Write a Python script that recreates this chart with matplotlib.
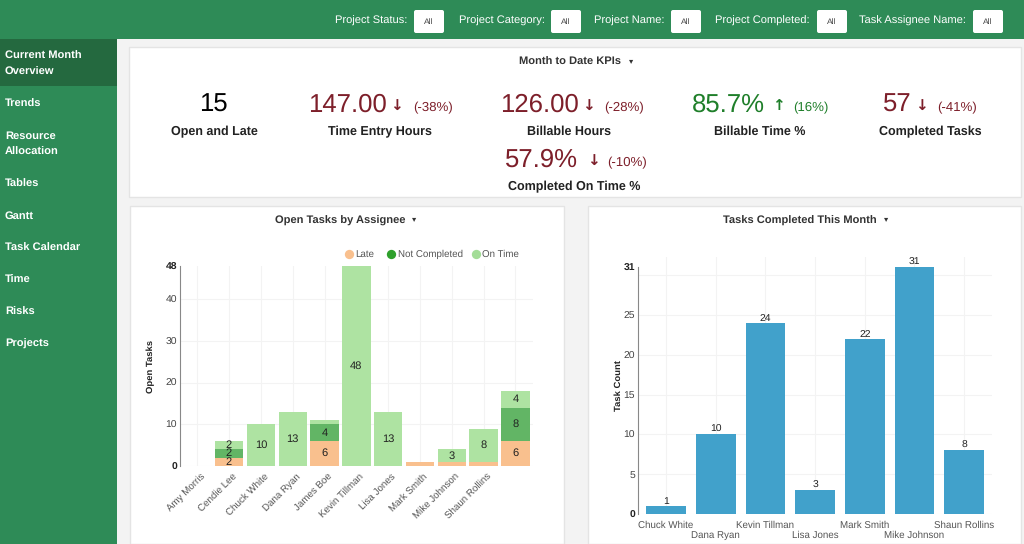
import matplotlib
matplotlib.use('Agg')
import matplotlib.pyplot as plt
from matplotlib.patches import Rectangle, FancyBboxPatch
from matplotlib.transforms import ScaledTranslation
import numpy as np

plt.rcParams['font.family'] = ['Liberation Sans', 'DejaVu Sans']
plt.rcParams['text.hinting'] = 'no_hinting'

GREEN = '#2e8b57'
RED = '#7d1f2a'
DKGREEN = '#1f7f2a'

# sidebar and filters
menu_items = ['Current Month\nOverview', 'Trends', 'Resource\nAllocation', 'Tables', 'Gantt',
              'Task Calendar', 'Time', 'Risks', 'Projects']
menu_y = [64, 104, 144, 184, 216, 248, 280, 312, 344]
filter_names = ['Project Status:', 'Project Category:', 'Project Name:', 'Project Completed:', 'Task Assignee Name:']
filter_right = [407, 545, 664, 810, 966]
filter_box = [414, 551, 671, 817, 973]

# KPI values: number, arrow, change, label
kpi_values = ['15', '147.00', '126.00', '85.7%', '57', '57.9%']
kpi_arrows = ['', '↓', '↓', '↑', '↓', '↓']
kpi_changes = ['', '(-38%)', '(-28%)', '(16%)', '(-41%)', '(-10%)']
kpi_labels = ['Open and Late', 'Time Entry Hours', 'Billable Hours', 'Billable Time %', 'Completed Tasks',
              'Completed On Time %']

# open tasks chart
assignees = ['Amy Morris', 'Cendie Lee', 'Chuck White', 'Dana Ryan', 'James Boe', 'Kevin Tillman', 'Lisa Jones',
             'Mark Smith', 'Mike Johnson', 'Shaun Rollins', '']
late = np.array([0, 2, 0, 0, 6, 0, 0, 1, 1, 1, 6])
not_completed = np.array([0, 2, 0, 0, 4, 0, 0, 0, 0, 0, 8])
on_time = np.array([0, 2, 10, 13, 1, 48, 13, 0, 3, 8, 4])

# completed tasks chart
completed_names = ['Chuck White', 'Dana Ryan', 'Kevin Tillman', 'Lisa Jones', 'Mark Smith', 'Mike Johnson',
                   'Shaun Rollins']
completed = [1, 10, 24, 3, 22, 31, 8]

W, H = 1024, 544
fig = plt.figure(figsize=(W / 100, H / 100), dpi=100, facecolor='#f3f3f3')

# page layer in pixels
page = fig.add_axes([0, 0, 1, 1])
page.set_xlim(0, W)
page.set_ylim(H, 0)
page.axis('off')

page.add_patch(Rectangle((0, 0), W, 39, color=GREEN, lw=0))
page.add_patch(Rectangle((0, 0), 117, H, color=GREEN, lw=0))
page.add_patch(Rectangle((0, 39), 117, 47, color='#24693f', lw=0))

for item, y in zip(menu_items, menu_y):
    page.text(5, y, item, color='white', fontsize=8, fontweight='bold', va='center', linespacing=1.75)

for name, r, b in zip(filter_names, filter_right, filter_box):
    page.text(r, 21, name, color='white', fontsize=8, ha='right', va='center')
    page.add_patch(FancyBboxPatch((b, 10), 30, 23, boxstyle='round,pad=0,rounding_size=2', fc='white', ec='none'))
    page.text(b + 15, 22, 'All', color='#444444', fontsize=6, ha='center', va='center')

# panels
for x, y, w, h in [(129, 47, 892, 150), (130, 206, 434, 338), (588, 206, 433, 338)]:
    page.add_patch(Rectangle((x, y), w, h, fc='white', ec='#e4e4e4', lw=1))

page.text(570, 62.5, 'Month to Date KPIs', fontsize=8, fontweight='bold', color='#333333', ha='center', va='center')
page.text(631, 61.5, '▾', fontsize=6, color='#333333', ha='center', va='center')
page.text(340.5, 220.5, 'Open Tasks by Assignee', fontsize=8, fontweight='bold', color='#333333', ha='center',
          va='center')
page.text(414, 219.5, '▾', fontsize=6, color='#333333', ha='center', va='center')
page.text(800, 220.5, 'Tasks Completed This Month', fontsize=8, fontweight='bold', color='#333333', ha='center',
          va='center')
page.text(886, 219.5, '▾', fontsize=6, color='#333333', ha='center', va='center')

# KPIs
kpi_x = [213, 308, 500, 692, 883, 505]
kpi_y = [105, 105, 105, 105, 105, 160]
arrow_x = [0, 396, 588, 778, 921, 593]
change_x = [0, 433, 624, 811, 957, 627]
label_x = [214, 380, 569, 760, 930, 574]
for i in range(len(kpi_values)):
    col = 'black' if i == 0 else (DKGREEN if i == 3 else RED)
    ha = 'center' if i == 0 else 'left'
    page.text(kpi_x[i], kpi_y[i], kpi_values[i], fontsize=18.5, color=col, ha=ha, va='center')
    page.text(label_x[i], kpi_y[i] + 26.5, kpi_labels[i], fontsize=9, fontweight='bold', color='#222222', ha='center',
              va='center')
    if kpi_arrows[i]:
        page.text(arrow_x[i], kpi_y[i] + 1, kpi_arrows[i], fontsize=11, fontweight='bold', color=col, ha='center',
                  va='center', family='DejaVu Sans')
        page.text(change_x[i], kpi_y[i] + 3, kpi_changes[i], fontsize=9.5, color=col, ha='center', va='center')


def style_axis(ax, yticks, ylabel, top):
    ax.set_facecolor('none')
    for s in ['top', 'right', 'bottom']:
        ax.spines[s].set_visible(False)
    ax.spines['left'].set_color('#888888')
    ax.spines['left'].set_linewidth(0.8)
    ax.spines['left'].set_bounds(0, top)
    ax.grid(True, which='both', color='#f3f3f3', lw=0.8)
    ax.set_axisbelow(True)
    ax.set_yticks(yticks)
    ax.tick_params(axis='y', length=0, pad=2, labelsize=7.5, labelcolor='#444444')
    ax.tick_params(axis='both', which='both', length=0)
    ax.set_ylabel(ylabel, fontsize=6.8, fontweight='bold', color='#222222')
    labs = ax.get_yticklabels()
    for lab in (labs[0], labs[-1]):
        lab.set_fontweight('bold')
        lab.set_color('#222222')
    # the top tick only carries the maximum, it has no grid line
    ax.yaxis.get_major_ticks()[-1].gridline.set_visible(False)


# left chart
ax = fig.add_axes([180 / W, 1 - 466 / H, (533 - 180) / W, 200 / H])
x = np.arange(len(assignees))
w = 0.89
ax.bar(x, late, w, color='#f9c08e')
ax.bar(x, not_completed, w, bottom=late, color='#62b565')
ax.bar(x, on_time, w, bottom=late + not_completed, color='#aee3a2')
ax.set_xlim(-0.54, 10.55)
ax.set_ylim(0, 48)
style_axis(ax, [0, 10, 20, 30, 40, 48], 'Open Tasks', 48)
ax.yaxis.set_label_coords((155 - 180) / (533 - 180), 0.5)
ax.set_xticks(x)
ax.set_xticklabels(assignees, rotation=45, ha='right', rotation_mode='anchor', fontsize=7, color='#555555')
ax.tick_params(axis='x', pad=4)
shift = ScaledTranslation(3 / 100, 0, fig.dpi_scale_trans)
for lab in ax.get_xticklabels():
    lab.set_transform(lab.get_transform() + shift)
for i in x:
    base = 0
    for vals in (late, not_completed, on_time):
        v = vals[i]
        if v >= 2:
            ax.text(i, base + v / 2, str(v), ha='center', va='center', fontsize=8, color='#222222')
        base += v

legend_names = ['Late', 'Not Completed', 'On Time']
legend_cols = ['#f9c08e', '#2ea02c', '#a3dd97']
legend_x = [349, 391, 476]
for name, col, lx in zip(legend_names, legend_cols, legend_x):
    page.scatter([lx], [254], s=45, color=col, lw=0)
    page.text(lx + 6.5, 254, name, fontsize=7, color='#555555', va='center')

# right chart
ax2 = fig.add_axes([638 / W, 1 - 514 / H, (992 - 638) / W, 257 / H])
x2 = np.arange(len(completed_names))
bars = ax2.bar(x2, completed, 0.8, color='#41a1cb')
ax2.set_xlim(-0.564, 6.56)
ax2.set_ylim(0, 32.3)
ax2.set_yticks([30], minor=True)
style_axis(ax2, [0, 5, 10, 15, 20, 25, 31], 'Task Count', 31)
ax2.yaxis.set_label_coords((623 - 638) / (992 - 638), 0.5)
ax2.bar_label(bars, fontsize=7.5, color='#222222', padding=0)
# names alternate between two rows
ax2.set_xticks(x2[::2])
ax2.set_xticklabels(completed_names[::2], fontsize=7, color='#555555')
ax2.set_xticks(x2[1::2], completed_names[1::2], minor=True, fontsize=7, color='#555555')
ax2.tick_params(axis='x', which='major', pad=5)
ax2.tick_params(axis='x', which='minor', pad=12)

fig.savefig('out.png', dpi=100, facecolor=fig.get_facecolor())
